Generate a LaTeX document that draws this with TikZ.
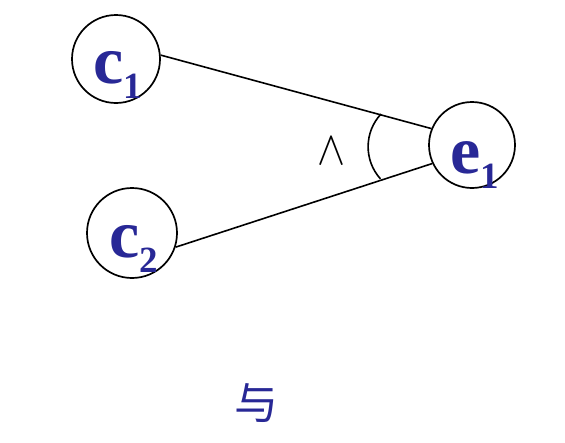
\documentclass[tikz,border=0pt]{standalone}
\usepackage{fontspec}
\usepackage{graphicx}
\setmainfont{Liberation Serif}
\newfontfamily\cjk{Noto Sans CJK SC}
\definecolor{lbl}{RGB}{40,40,150}
\begin{document}
\begin{tikzpicture}[x=1pt,y=-1pt,
  circ/.style={draw=black,line width=1.7pt,circle,inner sep=0pt},
  conn/.style={draw=black,line width=1.6pt},
  lab/.style={text=lbl,inner sep=0pt,anchor=base west,font=\bfseries}]
\useasboundingbox[fill=white] (0,0) rectangle (565,442);
\node[circ,minimum size=88pt] (c1) at (116,59) {};
\node[circ,minimum size=90pt] (c2) at (132,233) {};
\node[circ,minimum size=86pt] (e1) at (472,145) {};
\node[lab] (l1) at (93,83) {\fontsize{68}{68}\selectfont c\raisebox{-15pt}{\fontsize{37}{37}\selectfont 1}};
\node[lab] (l2) at (109,257) {\fontsize{68}{68}\selectfont c\raisebox{-15pt}{\fontsize{37}{37}\selectfont 2}};
\node[lab] (l3) at (450,173) {\fontsize{68}{68}\selectfont e\raisebox{-15pt}{\fontsize{37}{37}\selectfont 1}};
\draw[conn] (c1.5) -- (e1.158);
\draw[conn] (c2.-18) -- (e1.205);
\draw[conn] (381,114) arc[start angle=-137,end angle=-222,radius=48];
\node[inner sep=0pt] (and) at (331,151) {\scalebox{4.2}[4.8]{$\wedge$}};
\node[inner sep=0pt,text=lbl,font=\cjk\fontsize{44}{44}\selectfont] (yu) at (256,403) {与};
\end{tikzpicture}
\end{document}
